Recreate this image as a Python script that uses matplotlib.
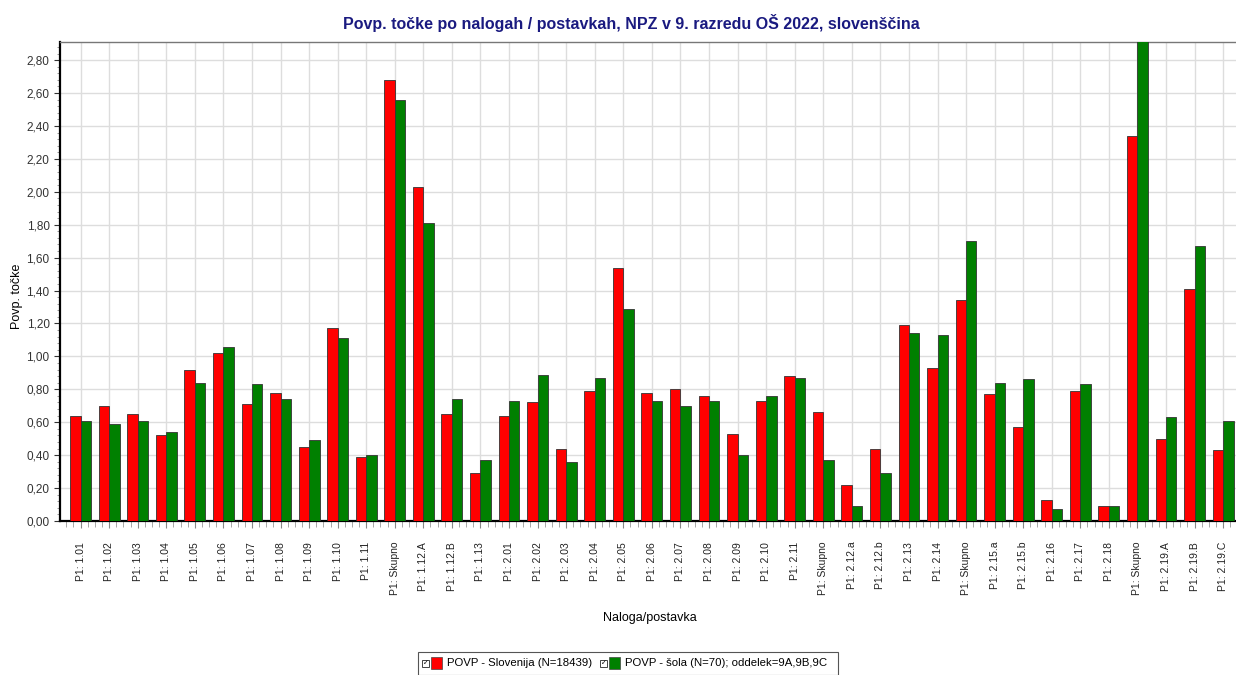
import matplotlib
matplotlib.use("Agg")
import matplotlib.pyplot as plt
import numpy as np
from matplotlib.patches import Rectangle
from matplotlib.ticker import FixedLocator, MultipleLocator, FuncFormatter

# ---------------------------------------------------------------------------
# Data
# ---------------------------------------------------------------------------
categories = [
    "P1: 1.01", "P1: 1.02", "P1: 1.03", "P1: 1.04", "P1: 1.05", "P1: 1.06",
    "P1: 1.07", "P1: 1.08", "P1: 1.09", "P1: 1.10", "P1: 1.11", "P1: Skupno",
    "P1: 1.12.A", "P1: 1.12.B", "P1: 1.13", "P1: 2.01", "P1: 2.02", "P1: 2.03",
    "P1: 2.04", "P1: 2.05", "P1: 2.06", "P1: 2.07", "P1: 2.08", "P1: 2.09",
    "P1: 2.10", "P1: 2.11", "P1: Skupno", "P1: 2.12.a", "P1: 2.12.b",
    "P1: 2.13", "P1: 2.14", "P1: Skupno", "P1: 2.15.a", "P1: 2.15.b",
    "P1: 2.16", "P1: 2.17", "P1: 2.18", "P1: Skupno", "P1: 2.19.A",
    "P1: 2.19.B", "P1: 2.19.C",
]

slovenija = [
    0.64, 0.70, 0.65, 0.52, 0.92, 1.02, 0.71, 0.78, 0.45, 1.17, 0.39, 2.68,
    2.03, 0.65, 0.29, 0.64, 0.72, 0.44, 0.79, 1.54, 0.78, 0.80, 0.76, 0.53,
    0.73, 0.88, 0.66, 0.22, 0.44, 1.19, 0.93, 1.34, 0.77, 0.57, 0.13, 0.79,
    0.09, 2.34, 0.50, 1.41, 0.43,
]

sola = [
    0.61, 0.59, 0.61, 0.54, 0.84, 1.06, 0.83, 0.74, 0.49, 1.11, 0.40, 2.56,
    1.81, 0.74, 0.37, 0.73, 0.89, 0.36, 0.87, 1.29, 0.73, 0.70, 0.73, 0.40,
    0.76, 0.87, 0.37, 0.09, 0.29, 1.14, 1.13, 1.70, 0.84, 0.86, 0.07, 0.83,
    0.09, 3.05, 0.63, 1.67, 0.61,
]

series_labels = [
    "POVP - Slovenija (N=18439)",
    "POVP - šola (N=70); oddelek=9A,9B,9C",
]

RED = "#FF0000"
GREEN = "#008000"
TITLE_COLOR = "#1A1A80"

plt.rcParams["font.family"] = ["Liberation Sans", "DejaVu Sans"]

W, H = 1236, 675
fig = plt.figure(figsize=(W / 100, H / 100), dpi=100)
ax = fig.add_axes([60 / W, 1 - 521 / H, 1 - 60 / W, (521 - 42) / H])

x = np.arange(len(categories))
w = 0.365
ax.bar(x - w / 2, slovenija, width=w, color=RED, edgecolor="#333333",
       linewidth=0.6, zorder=3)
ax.bar(x + w / 2, sola, width=w, color=GREEN, edgecolor="#333333",
       linewidth=0.6, zorder=3)

ax.set_xlim(-0.72, len(categories) - 0.55)
ax.set_ylim(0, 2.91)

# y axis
ax.yaxis.set_major_locator(MultipleLocator(0.2))
ax.yaxis.set_minor_locator(MultipleLocator(0.04))
ax.yaxis.set_major_formatter(FuncFormatter(lambda v, p: f"{v:.2f}".replace(".", ",")))
ax.tick_params(axis="y", which="major", length=4, labelsize=8.5, colors="#333333")
ax.tick_params(axis="y", which="minor", length=2, color="#888888")

# x axis
ax.set_xticks(x)
ax.set_xticklabels(categories, rotation=90, fontsize=7.5, color="#222222")
ax.xaxis.set_minor_locator(FixedLocator(np.arange(-0.75, len(categories), 0.25)))
ax.tick_params(axis="x", which="major", length=5, pad=10, color="#888888")
ax.tick_params(axis="x", which="minor", length=4, color="#999999")
for lbl in ax.get_xticklabels():
    lbl.set_va("top")

ax.grid(True, which="major", color="#DDDDDD", linewidth=1.0, zorder=0)
ax.set_axisbelow(True)

ax.spines["left"].set_linewidth(1.6)
ax.spines["bottom"].set_linewidth(1.6)
ax.spines["top"].set_color("#777777")
ax.spines["top"].set_linewidth(1.0)
ax.spines["right"].set_visible(False)

ax.set_ylabel("Povp. točke", fontsize=9)
ax.yaxis.set_label_coords((23 - 60) / (W - 60), 0.47)
fig.text(650 / W, 1 - 618 / H, "Naloga/postavka", ha="center", va="center",
         fontsize=9)

fig.text(631 / W, 1 - 23 / H,
         "Povp. točke po nalogah / postavkah, NPZ v 9. razredu OŠ 2022, slovenščina",
         ha="center", va="center", fontsize=11.5, fontweight="bold", color=TITLE_COLOR)

# legend box (drawn as in the source application)
fig.patches.append(Rectangle((418 / W, 0), 420 / W, (H - 652) / H,
                             transform=fig.transFigure, facecolor="white",
                             edgecolor="#555555", linewidth=0.8))
items = [(422, RED, series_labels[0]), (600, GREEN, series_labels[1])]
for x0, col, label in items:
    fig.patches.append(Rectangle((x0 / W, 1 - 667 / H), 7 / W, 7 / H,
                                 transform=fig.transFigure, facecolor="white",
                                 edgecolor="#444444", linewidth=0.7))
    fig.text((x0 + 3.5) / W, 1 - 663.5 / H, "✓", ha="center", va="center",
             fontsize=5, family="DejaVu Sans")
    fig.patches.append(Rectangle(((x0 + 9) / W, 1 - 669 / H), 11 / W, 12 / H,
                                 transform=fig.transFigure, facecolor=col,
                                 edgecolor="#444444", linewidth=0.5))
    fig.text((x0 + 25) / W, 1 - 663 / H, label, ha="left", va="center",
             fontsize=8.2)

fig.savefig("out.png", dpi=100)
